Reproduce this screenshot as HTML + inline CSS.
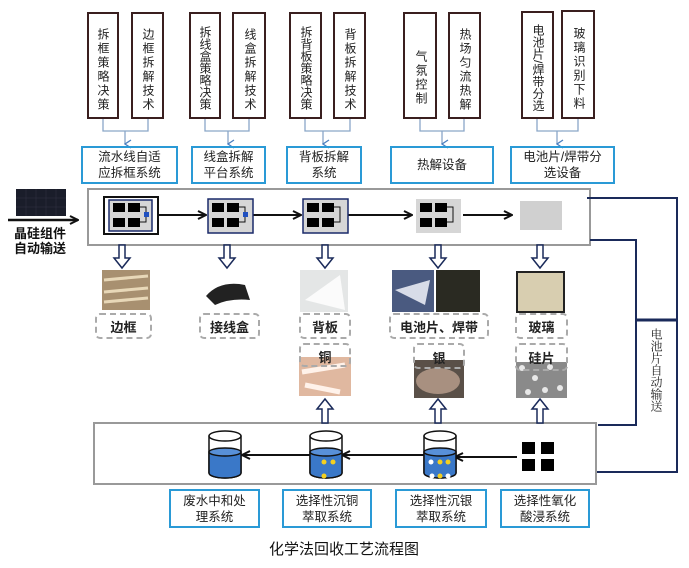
<!DOCTYPE html>
<html><head><meta charset="utf-8"><style>
body{margin:0;width:689px;height:568px;background:#fff;position:relative;overflow:hidden;font-family:"Liberation Sans","Noto Sans CJK SC",sans-serif;}
.a{position:absolute;box-sizing:border-box;}
.v{border:2px solid #3a1f1f;writing-mode:vertical-rl;font-size:12px;line-height:28px;text-align:center;color:#222;padding-top:8px;letter-spacing:2px;white-space:nowrap;}
.v7{letter-spacing:0px;padding-top:5px;}
.b{border:2px solid #2a9ad6;font-size:12.5px;line-height:16px;text-align:center;color:#222;display:flex;align-items:center;justify-content:center;}
.d{border:2px dashed #aaa;border-radius:5px;font-size:13px;font-weight:bold;text-align:center;display:flex;align-items:center;justify-content:center;color:#222;}
</style></head><body>
<svg class="a" style="left:0;top:0" width="689" height="568">
<defs><marker id="ar" markerWidth="10" markerHeight="10" refX="9" refY="5" orient="auto" markerUnits="userSpaceOnUse"><path d="M1,1 L9,5 L1,9" fill="none" stroke="#111" stroke-width="2"/></marker>
<marker id="ab" markerWidth="10" markerHeight="8" refX="5" refY="7" orient="auto" markerUnits="userSpaceOnUse"><path d="M1,1 L5,7 L9,1" fill="none" stroke="#4a7fc0" stroke-width="1.3"/></marker></defs>
<g stroke="#8aa6c8" stroke-width="1.3" fill="none">
<path d="M103,119V131H148V119M125,131V144" marker-end="url(#ab)"/>
<path d="M205,119V131H249V119M228,131V144" marker-end="url(#ab)"/>
<path d="M305,119V131H350V119M323,131V144" marker-end="url(#ab)"/>
<path d="M420,119V131H464V119M442,131V144" marker-end="url(#ab)"/>
<path d="M537,119V131H578V119M557,131V144" marker-end="url(#ab)"/>
</g>
<rect x="88" y="189" width="502" height="56" fill="#fff" stroke="#999" stroke-width="2"/>
<path d="M587,198H677V472H596" fill="none" stroke="#1a2a5a" stroke-width="2"/>
<path d="M590,240H636V425H598" fill="none" stroke="#1a2a5a" stroke-width="2"/>
<path d="M636,320H677" stroke="#1a2a5a" stroke-width="3"/>
<rect x="94" y="423" width="502" height="61" fill="#fff" stroke="#999" stroke-width="2"/>
<rect x="16" y="189" width="50" height="27" fill="#1a1d2a"/>
<g stroke="#334" stroke-width="0.5"><path d="M16,198H66M16,207H66M26,189V216M36,189V216M46,189V216M56,189V216"/></g>
<path d="M8,220H78" stroke="#111" stroke-width="2.5" marker-end="url(#ar)"/>
<text x="14" y="238" font-size="13" font-weight="bold" fill="#111">晶硅组件</text>
<text x="14" y="253" font-size="13" font-weight="bold" fill="#111">自动输送</text>
<g stroke="#111" stroke-width="2" marker-end="url(#ar)">
<path d="M158,215H206"/><path d="M253,215H301"/><path d="M348,215H412"/><path d="M463,215H512"/>
</g>
<rect x="104" y="197" width="54" height="37" fill="#fff" stroke="#111" stroke-width="2"/>
<rect x="109" y="200" width="43" height="31" fill="#d6d6d6" stroke="#1a2a6a" stroke-width="1.5"/>
<rect x="208" y="199" width="45" height="34" fill="#d6d6d6" stroke="#1a2a6a" stroke-width="1.5"/>
<rect x="303" y="199" width="45" height="34" fill="#d6d6d6" stroke="#1a2a6a" stroke-width="1.5"/>
<rect x="416" y="199" width="45" height="34" fill="#d6d6d6"/>
<rect x="520" y="201" width="42" height="29" fill="#d0d0d0"/>
<g fill="#000">
<rect x="113" y="203" width="12" height="9"/><rect x="128" y="203" width="12" height="9"/><rect x="113" y="218" width="12" height="9"/><rect x="128" y="218" width="12" height="9"/>
<rect x="212" y="203" width="12" height="9"/><rect x="227" y="203" width="12" height="9"/><rect x="212" y="218" width="12" height="9"/><rect x="227" y="218" width="12" height="9"/>
<rect x="307" y="203" width="12" height="9"/><rect x="322" y="203" width="12" height="9"/><rect x="307" y="218" width="12" height="9"/><rect x="322" y="218" width="12" height="9"/>
<rect x="420" y="203" width="12" height="9"/><rect x="435" y="203" width="12" height="9"/><rect x="420" y="218" width="12" height="9"/><rect x="435" y="218" width="12" height="9"/>
</g>
<g fill="none" stroke="#111" stroke-width="1"><path d="M140,207H146V222H140"/><path d="M239,207H245V222H239"/><path d="M334,207H340V222H334"/><path d="M447,207H453V222H447"/></g>
<g fill="#2050c0"><rect x="144" y="212" width="5" height="5"/><rect x="243" y="212" width="5" height="5"/></g>
<g fill="#fff" stroke="#1a2a5a" stroke-width="1.5">
<path d="M119,245V258H114L122,268L130,258H125V245Z"/>
<path d="M224,245V258H219L227,268L235,258H230V245Z"/>
<path d="M322,245V258H317L325,268L333,258H328V245Z"/>
<path d="M435,245V258H430L438,268L446,258H441V245Z"/>
<path d="M537,245V258H532L540,268L548,258H543V245Z"/>
<path d="M322,423V409H317L325,399L333,409H328V423Z"/>
<path d="M435,423V409H430L438,399L446,409H441V423Z"/>
<path d="M537,423V409H532L540,399L548,409H543V423Z"/>
</g>
<rect x="102" y="270" width="48" height="40" fill="#a89070"/>
<path d="M104,280L148,276M104,292L148,288M104,302L148,298" stroke="#e8d8b8" stroke-width="3"/>
<path d="M206,296Q220,280 245,285L250,300Q230,298 215,305Z" fill="#222"/>
<rect x="300" y="270" width="48" height="42" fill="#e4e6e6"/><path d="M305,300L340,275L345,310Z" fill="#fbfbfb"/>
<rect x="392" y="270" width="42" height="42" fill="#4a5a80"/><path d="M395,290L430,280L425,305Z" fill="#d8dce8"/>
<rect x="436" y="270" width="44" height="42" fill="#2a2a22"/>
<rect x="517" y="272" width="47" height="40" fill="#d8ceb0" stroke="#222" stroke-width="2"/>
<rect x="299" y="357" width="52" height="39" fill="#e0b8a0"/><path d="M302,372L345,365M305,385L340,392" stroke="#fff2ea" stroke-width="5"/>
<rect x="414" y="360" width="50" height="38" fill="#5a5048"/><ellipse cx="438" cy="381" rx="22" ry="13" fill="#a89080"/>
<rect x="516" y="362" width="51" height="36" fill="#8a8a8a"/>
<g fill="#e8e8e8"><circle cx="522" cy="368" r="3"/><circle cx="535" cy="378" r="3"/><circle cx="550" cy="367" r="3"/><circle cx="560" cy="388" r="3"/><circle cx="528" cy="392" r="3"/><circle cx="545" cy="390" r="3"/></g>
<g stroke="#111" stroke-width="2" marker-end="url(#ar)"><path d="M517,457H455"/><path d="M424,455H342"/><path d="M310,455H242"/></g>
<g stroke="#111" stroke-width="1.5">
<path d="M209,436V473A16,5 0 0 0 241,473V436" fill="#fff"/>
<path d="M209,452V473A16,5 0 0 0 241,473V452Z" fill="#3a78c8"/><ellipse cx="225" cy="452" rx="16" ry="4" fill="#5890d8"/>
<ellipse cx="225" cy="436" rx="16" ry="5" fill="#fff"/>
<path d="M310,436V473A16,5 0 0 0 342,473V436" fill="#fff"/>
<path d="M310,452V473A16,5 0 0 0 342,473V452Z" fill="#3a78c8"/><ellipse cx="326" cy="452" rx="16" ry="4" fill="#5890d8"/>
<ellipse cx="326" cy="436" rx="16" ry="5" fill="#fff"/>
<path d="M424,436V473A16,5 0 0 0 456,473V436" fill="#fff"/>
<path d="M424,452V473A16,5 0 0 0 456,473V452Z" fill="#3a78c8"/><ellipse cx="440" cy="452" rx="16" ry="4" fill="#5890d8"/>
<ellipse cx="440" cy="436" rx="16" ry="5" fill="#fff"/>
</g>
<g fill="#f4d020"><circle cx="324" cy="462" r="2.5"/><circle cx="333" cy="462" r="2.5"/><circle cx="324" cy="476" r="2.5"/>
<circle cx="440" cy="462" r="2.5"/><circle cx="448" cy="462" r="2.5"/><circle cx="440" cy="476" r="2.5"/></g>
<g fill="#fff"><circle cx="431" cy="462" r="2.5"/><circle cx="432" cy="476" r="2.5"/><circle cx="448" cy="476" r="2.5"/></g>
<g fill="#000"><rect x="522" y="442" width="13" height="12"/><rect x="541" y="442" width="13" height="12"/><rect x="522" y="459" width="13" height="12"/><rect x="541" y="459" width="13" height="12"/></g>
<text x="344" y="554" font-size="15" text-anchor="middle" fill="#111">化学法回收工艺流程图</text>
</svg>
<div class="a v" style="left:87px;top:12px;width:32px;height:107px">拆框策略决策</div>
<div class="a v" style="left:131px;top:12px;width:33px;height:107px">边框拆解技术</div>
<div class="a v v7" style="left:189px;top:12px;width:32px;height:107px">拆线盒策略决策</div>
<div class="a v" style="left:232px;top:12px;width:34px;height:107px">线盒拆解技术</div>
<div class="a v v7" style="left:289px;top:12px;width:33px;height:107px">拆背板策略决策</div>
<div class="a v" style="left:333px;top:12px;width:33px;height:107px">背板拆解技术</div>
<div class="a v" style="left:403px;top:12px;width:34px;height:107px;padding-top:24px">气氛控制</div>
<div class="a v" style="left:448px;top:12px;width:33px;height:107px">热场匀流热解</div>
<div class="a v v7" style="left:521px;top:11px;width:33px;height:108px">电池片/焊带分选</div>
<div class="a v" style="left:561px;top:10px;width:34px;height:109px">玻璃识别下料</div>
<div class="a b" style="left:81px;top:146px;width:97px;height:38px">流水线自适<br>应拆框系统</div>
<div class="a b" style="left:191px;top:146px;width:75px;height:38px">线盒拆解<br>平台系统</div>
<div class="a b" style="left:286px;top:146px;width:76px;height:38px">背板拆解<br>系统</div>
<div class="a b" style="left:390px;top:146px;width:104px;height:38px">热解设备</div>
<div class="a b" style="left:510px;top:146px;width:105px;height:38px">电池片/焊带分<br>选设备</div>
<div class="a d" style="left:95px;top:313px;width:57px;height:26px">边框</div>
<div class="a d" style="left:199px;top:313px;width:61px;height:26px">接线盒</div>
<div class="a d" style="left:299px;top:313px;width:52px;height:26px">背板</div>
<div class="a d" style="left:389px;top:313px;width:100px;height:26px">电池片、焊带</div>
<div class="a d" style="left:515px;top:313px;width:53px;height:26px">玻璃</div>
<div class="a d" style="left:299px;top:343px;width:52px;height:24px;align-items:flex-start;padding-top:2px">铜</div>
<div class="a d" style="left:413px;top:343px;width:52px;height:26px;align-items:flex-start;padding-top:3px">银</div>
<div class="a d" style="left:515px;top:343px;width:53px;height:28px;align-items:flex-start;padding-top:3px">硅片</div>
<div class="a" style="left:645px;top:328px;width:20px;height:100px;writing-mode:vertical-rl;font-size:12px;font-family:'Liberation Serif','Noto Serif CJK SC',serif;color:#222;">电池片自动输送</div>
<div class="a b" style="left:169px;top:489px;width:91px;height:39px">废水中和处<br>理系统</div>
<div class="a b" style="left:282px;top:489px;width:90px;height:39px">选择性沉铜<br>萃取系统</div>
<div class="a b" style="left:395px;top:489px;width:92px;height:39px">选择性沉银<br>萃取系统</div>
<div class="a b" style="left:500px;top:489px;width:90px;height:39px">选择性氧化<br>酸浸系统</div>
</body></html>
